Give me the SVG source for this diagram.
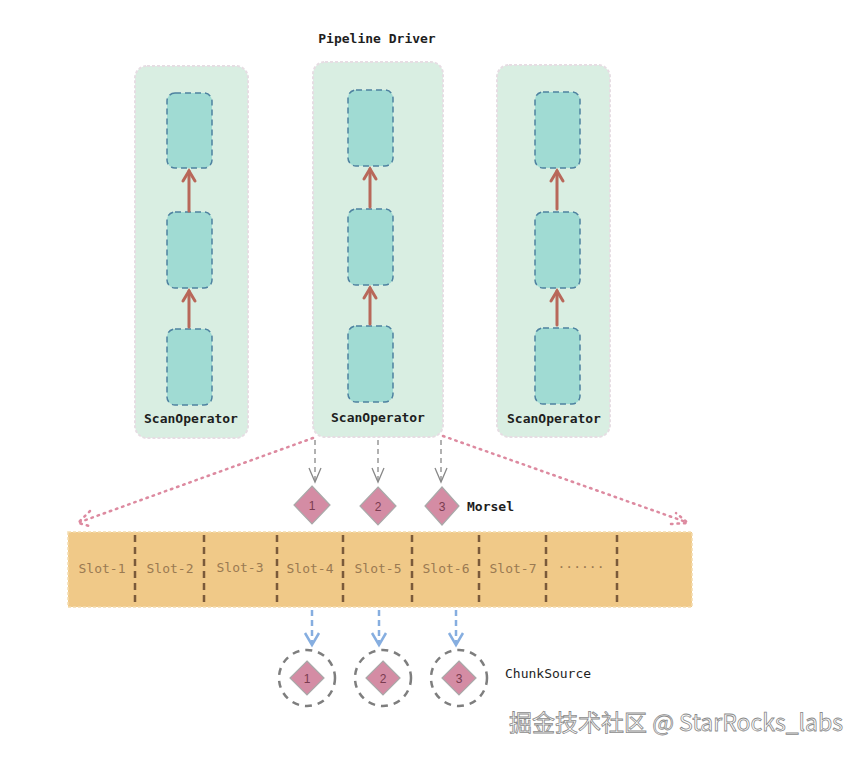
<svg xmlns="http://www.w3.org/2000/svg" width="864" height="758" viewBox="0 0 864 758">
<style>
.outer{fill:#d9eee2;stroke:#e6dde3;stroke-width:2;stroke-dasharray:3 2}
.inner{fill:#a0dbd3;stroke:#4e82a0;stroke-width:1.5;stroke-dasharray:6 4}
.up{stroke:#b8685a;stroke-width:3;fill:none;stroke-linecap:round}
.lbl{font-family:"DejaVu Sans Mono","Liberation Mono",monospace;font-weight:bold;font-size:13px;fill:#1e1e1e}
.slot{font-family:"DejaVu Sans Mono","Liberation Mono",monospace;font-size:13px;fill:#9a7a52;text-anchor:middle}
.dia{fill:#d48ca4;stroke:#a9a9a9;stroke-width:1.2}
.num{font-family:"Liberation Sans",Arial,sans-serif;font-size:12px;fill:#7a3b50;text-anchor:middle}
.div{stroke:#7a5a3a;stroke-width:2.5;stroke-dasharray:7 5}
.gray{stroke:#888;stroke-width:1.3;stroke-dasharray:5 4;fill:none}
.blue{stroke:#86aee0;stroke-width:2.5;stroke-dasharray:6 4;fill:none}
.pink{stroke:#dd8aa0;stroke-width:2.5;stroke-dasharray:1.5 5;stroke-linecap:round;fill:none}
.circ{fill:none;stroke:#7e7e7e;stroke-width:2.5;stroke-dasharray:7 6}
</style>
<rect width="864" height="758" fill="#ffffff"/>
<text class="lbl" x="377" y="43" text-anchor="middle">Pipeline Driver</text>

<g id="driver1">
<rect class="outer" x="135" y="66" width="113" height="372" rx="12"/>
<rect class="inner" x="167" y="93" width="45" height="75" rx="8"/>
<rect class="inner" x="167" y="212" width="45" height="76" rx="8"/>
<rect class="inner" x="167" y="329" width="45" height="76" rx="8"/>
<text class="lbl" x="191" y="423" text-anchor="middle">ScanOperator</text>
</g>
<g id="driver2">
<rect class="outer" x="313" y="62" width="130" height="375" rx="12"/>
<rect class="inner" x="348" y="90" width="45" height="76" rx="8"/>
<rect class="inner" x="348" y="209" width="45" height="76" rx="8"/>
<rect class="inner" x="348" y="326" width="45" height="76" rx="8"/>
<text class="lbl" x="378" y="422" text-anchor="middle">ScanOperator</text>
</g>
<g id="driver3">
<rect class="outer" x="497" y="65" width="113" height="372" rx="12"/>
<rect class="inner" x="535" y="92" width="45" height="76" rx="8"/>
<rect class="inner" x="535" y="212" width="45" height="76" rx="8"/>
<rect class="inner" x="535" y="328" width="45" height="76" rx="8"/>
<text class="lbl" x="554" y="423" text-anchor="middle">ScanOperator</text>
</g>

<g id="slots">
<rect x="68" y="532" width="624" height="75" fill="#f0c988" stroke="#f3dcae" stroke-width="1.5" stroke-dasharray="3 2"/>
<line class="div" x1="135" y1="535" x2="135" y2="606"/>
<line class="div" x1="204" y1="535" x2="204" y2="606"/>
<line class="div" x1="277" y1="535" x2="277" y2="606"/>
<line class="div" x1="343" y1="535" x2="343" y2="606"/>
<line class="div" x1="412" y1="535" x2="412" y2="606"/>
<line class="div" x1="479" y1="535" x2="479" y2="606"/>
<line class="div" x1="546" y1="535" x2="546" y2="606"/>
<line class="div" x1="617" y1="535" x2="617" y2="606"/>
<text class="slot" x="102" y="573">Slot-1</text>
<text class="slot" x="170" y="573">Slot-2</text>
<text class="slot" x="240" y="572">Slot-3</text>
<text class="slot" x="310" y="573">Slot-4</text>
<text class="slot" x="378" y="573">Slot-5</text>
<text class="slot" x="446" y="573">Slot-6</text>
<text class="slot" x="513" y="573">Slot-7</text>
<text class="slot" x="581" y="571">······</text>
</g>

<g id="morsels">
<polygon class="dia" points="312,486 330,505 312,524 294,505"/>
<text class="num" x="312" y="510">1</text>
<polygon class="dia" points="378,487 396,506 378,525 360,506"/>
<text class="num" x="378" y="511">2</text>
<polygon class="dia" points="442,487 459,506 442,525 425,506"/>
<text class="num" x="442" y="511">3</text>
<text class="lbl" x="467" y="511">Morsel</text>
</g>

<g id="chunksources">
<circle class="circ" cx="307" cy="678" r="28"/>
<polygon class="dia" points="307,661 324,678 307,695 290,678"/>
<text class="num" x="307" y="683">1</text>
<circle class="circ" cx="383" cy="678" r="28"/>
<polygon class="dia" points="383,661 400,678 383,695 366,678"/>
<text class="num" x="383" y="683">2</text>
<circle class="circ" cx="459" cy="678" r="28"/>
<polygon class="dia" points="459,661 476,678 459,695 442,678"/>
<text class="num" x="459" y="683">3</text>
<text x="505" y="678" font-family="'DejaVu Sans Mono','Liberation Mono',monospace" font-size="13" fill="#1e1e1e">ChunkSource</text>
</g>

<g id="connectors">
<line class="up" x1="189" y1="211" x2="189" y2="171"/>
<polyline class="up" points="183,181 189,171 195,181"/>
<line class="up" x1="189" y1="327" x2="189" y2="291"/>
<polyline class="up" points="183,301 189,291 195,301"/>
<line class="up" x1="370" y1="207" x2="370" y2="169"/>
<polyline class="up" points="364,179 370,169 376,179"/>
<line class="up" x1="370" y1="324" x2="370" y2="288"/>
<polyline class="up" points="364,298 370,288 376,298"/>
<line class="up" x1="557" y1="209" x2="557" y2="171"/>
<polyline class="up" points="551,181 557,171 563,181"/>
<line class="up" x1="557" y1="325" x2="557" y2="291"/>
<polyline class="up" points="551,301 557,291 563,301"/>

<line class="pink" x1="313" y1="438" x2="80" y2="522"/>
<polyline class="pink" points="90,511 78,523 93,527"/>
<line class="pink" x1="443" y1="436" x2="686" y2="522"/>
<polyline class="pink" points="671,524 688,523 676,513"/>

<line class="gray" x1="315" y1="440" x2="315" y2="482"/>
<polyline points="309,468 315,482 321,468" fill="none" stroke="#888" stroke-width="1.3"/>
<line class="gray" x1="378" y1="440" x2="378" y2="482"/>
<polyline points="372,468 378,482 384,468" fill="none" stroke="#888" stroke-width="1.3"/>
<line class="gray" x1="441" y1="440" x2="441" y2="482"/>
<polyline points="435,468 441,482 447,468" fill="none" stroke="#888" stroke-width="1.3"/>

<line class="blue" x1="312" y1="610" x2="312" y2="644"/>
<polyline points="305,633 312,645 319,633" fill="none" stroke="#86aee0" stroke-width="2.5"/>
<line class="blue" x1="379" y1="610" x2="379" y2="644"/>
<polyline points="372,633 379,645 386,633" fill="none" stroke="#86aee0" stroke-width="2.5"/>
<line class="blue" x1="456" y1="610" x2="456" y2="644"/>
<polyline points="449,633 456,645 463,633" fill="none" stroke="#86aee0" stroke-width="2.5"/>
</g>

<text x="843" y="731" text-anchor="end" font-family="'Noto Sans CJK SC','Noto Sans',sans-serif" font-size="23" fill="#ffffff" stroke="#8a8a8a" stroke-width="0.8">掘金技术社区 @ StarRocks_labs</text>
</svg>
